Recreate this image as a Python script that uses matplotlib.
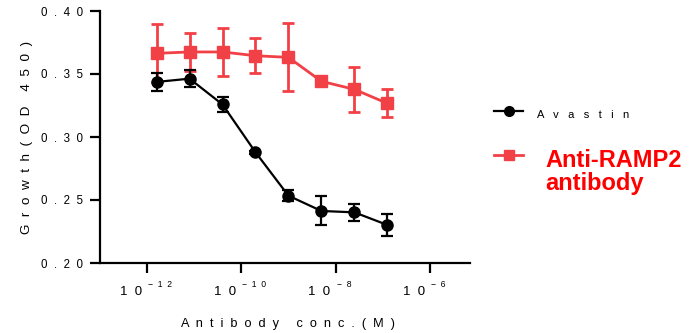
import matplotlib
matplotlib.use("Agg")
import matplotlib.pyplot as plt
from matplotlib.lines import Line2D

# concentrations (M), 5-fold dilution series
conc = [1.6e-12, 8e-12, 4e-11, 2e-10, 1e-9, 5e-9, 2.5e-8, 1.25e-7]

avastin = [0.3437, 0.3463, 0.3258, 0.2879, 0.2534, 0.2413, 0.2402, 0.2302]
avastin_err = [0.0070, 0.0065, 0.0060, 0.0010, 0.0042, 0.0115, 0.0070, 0.0090]

ramp2 = [0.3664, 0.3675, 0.3675, 0.3645, 0.3632, 0.3442, 0.3378, 0.3267]
ramp2_err = [0.0230, 0.0150, 0.0190, 0.0140, 0.0270, 0.0010, 0.0178, 0.0110]

xticks = [1e-12, 1e-10, 1e-8, 1e-6]
xtick_exps = ["\u2212  1  2", "\u2212  1  0", "\u2212  8", "\u2212  6"]
yticks = [0.20, 0.25, 0.30, 0.35, 0.40]
ytick_labels = ["0  .  2  0", "0  .  2  5", "0  .  3  0", "0  .  3  5", "0  .  4  0"]

BLACK = "#000000"
RED = "#F24146"

plt.rcParams["font.family"] = ["Liberation Sans", "DejaVu Sans"]

W, H = 698, 333
fig = plt.figure(figsize=(W / 100, H / 100), dpi=100)
ax = fig.add_axes([100 / W, 1 - 263 / H, 370 / W, 252 / H])

ax.errorbar(conc, avastin, yerr=avastin_err, color=BLACK, marker="o", ms=8,
            lw=1.6, elinewidth=1.6, capsize=4, capthick=1.6, zorder=3)
ax.errorbar(conc, ramp2, yerr=ramp2_err, color=RED, marker="s", ms=8,
            lw=2.0, elinewidth=2.0, capsize=4, capthick=2.0, zorder=2)

ax.set_xscale("log")
ax.set_xlim(10 ** -12.996, 10 ** -5.15)
ax.set_ylim(0.20, 0.40)
ax.set_xticks(xticks)
ax.set_xticklabels([])
ax.minorticks_off()
ax.set_yticks(yticks)
ax.set_yticklabels(ytick_labels)

# x tick labels: "1 0" with a small raised exponent
for t, e in zip(xticks, xtick_exps):
    ax.annotate("1  0", xy=(t, 0), xycoords=("data", "axes fraction"),
                xytext=(-3.6, -21), textcoords="offset points",
                ha="right", va="center", fontsize=9.5)
    ax.annotate(e, xy=(t, 0), xycoords=("data", "axes fraction"),
                xytext=(0.8, -15.5), textcoords="offset points",
                ha="left", va="center", fontsize=6.2)

for s in ["top", "right"]:
    ax.spines[s].set_visible(False)
for s in ["left", "bottom"]:
    ax.spines[s].set_linewidth(1.6)
ax.tick_params(axis="both", width=1.6, length=7, labelsize=8.3, color=BLACK)
ax.tick_params(axis="y", pad=5)

ax.set_ylabel("G  r  o  w  t  h  (  O  D    4  5  0  )", fontsize=9.7)
ax.set_xlabel("A  n  t  i  b  o  d  y     c  o  n  c  .  (  M  )", fontsize=9.2)
ax.yaxis.set_label_coords(-67 / 370, 0.5)
ax.xaxis.set_label_coords((288 - 100) / 370, -(324 - 263) / 252)
ax.xaxis.label.set_va("center")

# legend drawn by hand
fig.add_artist(Line2D([494 / W, 523 / W], [1 - 111 / H] * 2, color=BLACK, lw=1.6,
                      transform=fig.transFigure))
fig.add_artist(Line2D([508.5 / W], [1 - 111 / H], color=BLACK, marker="o", ms=7,
                      transform=fig.transFigure))
fig.text(537 / W, 1 - 115 / H, "A   v   a   s   t   i   n", fontsize=8, va="center")

fig.add_artist(Line2D([494 / W, 523 / W], [1 - 155 / H] * 2, color=RED, lw=2.0,
                      transform=fig.transFigure))
fig.add_artist(Line2D([508.5 / W], [1 - 155 / H], color=RED, marker="s", ms=7,
                      transform=fig.transFigure))
fig.text(545 / W, 1 - 172 / H, "Anti-RAMP2\nantibody", fontsize=17, fontweight="bold",
         color="#FF0000", va="center", linespacing=1.05)

fig.savefig("out.png", dpi=100)
